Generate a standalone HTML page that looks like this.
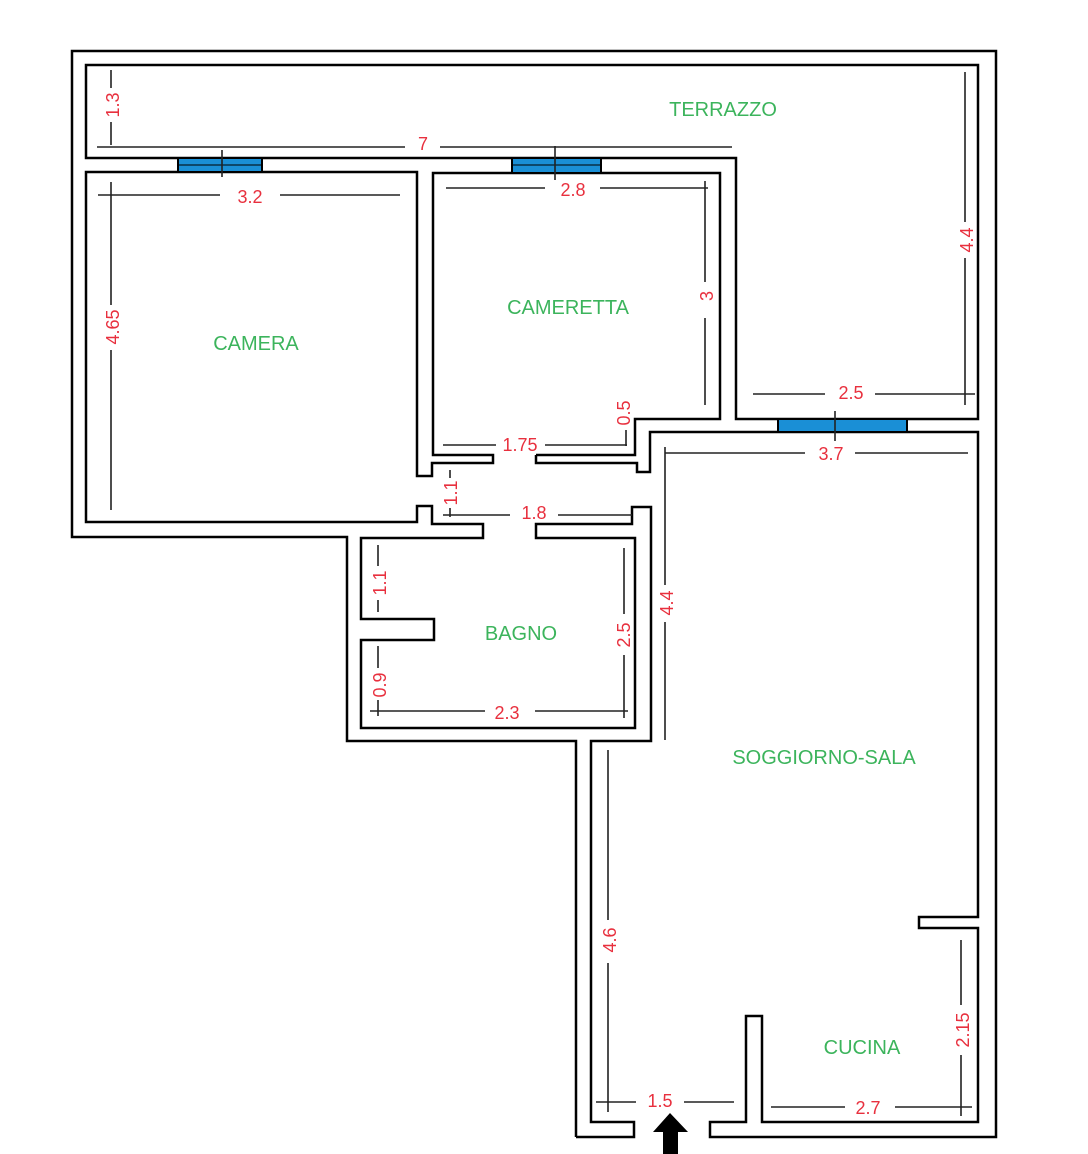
<!DOCTYPE html>
<html><head><meta charset="utf-8"><style>
html,body{margin:0;padding:0;background:#fff;}
svg{display:block;}
.w{fill:none;stroke:#000;stroke-width:2.5;stroke-linejoin:miter;}
.d{stroke:#222;stroke-width:1.6;fill:none;}
.r{fill:#e8303e;font-family:"Liberation Sans",sans-serif;font-size:18px;text-anchor:middle;dominant-baseline:central;}
.g{fill:#3cb45c;font-family:"Liberation Sans",sans-serif;font-size:20px;text-anchor:middle;dominant-baseline:central;}
.win{fill:#1a8fd6;stroke:#000;stroke-width:2;}
</style></head><body>
<svg width="1088" height="1154" viewBox="0 0 1088 1154" xmlns="http://www.w3.org/2000/svg">
<rect width="1088" height="1154" fill="#fff"/>
<!-- outer loop -->
<polyline class="w" stroke-width="3" points="576,1137 576,741 347,741 347,537 72,537 72,51 996,51 996,1137 710,1137 710,1122 746,1122 746,1016 762,1016 762,1122 978,1122 978,928 919,928 919,917 978,917 978,432 650,432 650,472 637,472 637,463 536,463 536,455"/>
<!-- inner loop -->
<polyline class="w" points="576,1137 634,1137 634,1122 591,1122 591,741 651,741 651,507 632,507 632,524 536,524 536,538 635,538 635,728 361,728 361,640 434,640 434,619 361,619 361,538 483,538 483,524 432,524 432,506 417,506 417,522 86,522 86,172 417,172 417,476 432,476 432,463 493,463 493,455 433,455 433,173 720,173 720,419 635,419 635,455 536,455"/>
<!-- terrazzo -->
<polygon class="w" points="86,65 978,65 978,419 736,419 736,158 86,158"/>
<!-- windows -->
<rect class="win" x="178" y="158" width="84" height="14"/><line x1="178" y1="165" x2="262" y2="165" stroke="#000" stroke-width="1"/>
<rect class="win" x="512" y="158" width="89" height="15"/><line x1="512" y1="165" x2="601" y2="165" stroke="#000" stroke-width="1"/>
<rect class="win" x="778" y="419" width="129" height="13"/>
<!-- dimension lines -->
<g class="d">
<line x1="111" y1="70" x2="111" y2="88"/><line x1="111" y1="122" x2="111" y2="145"/>
<line x1="97" y1="147" x2="405" y2="147"/><line x1="440" y1="147" x2="732" y2="147"/>
<line x1="222" y1="150" x2="222" y2="177"/><line x1="555" y1="146" x2="555" y2="180"/>
<line x1="98" y1="195" x2="220" y2="195"/><line x1="280" y1="195" x2="400" y2="195"/>
<line x1="111" y1="182" x2="111" y2="305"/><line x1="111" y1="350" x2="111" y2="510"/>
<line x1="446" y1="188" x2="545" y2="188"/><line x1="600" y1="188" x2="708" y2="188"/>
<line x1="705" y1="181" x2="705" y2="282"/><line x1="705" y1="318" x2="705" y2="405"/>
<line x1="626" y1="430" x2="626" y2="446"/>
<line x1="443" y1="445" x2="496" y2="445"/><line x1="545" y1="445" x2="627" y2="445"/>
<line x1="450" y1="470" x2="450" y2="478"/><line x1="450" y1="508" x2="450" y2="517"/>
<line x1="443" y1="515" x2="510" y2="515"/><line x1="558" y1="515" x2="632" y2="515"/>
<line x1="965" y1="72" x2="965" y2="222"/><line x1="965" y1="258" x2="965" y2="405"/>
<line x1="753" y1="394" x2="825" y2="394"/><line x1="875" y1="394" x2="975" y2="394"/>
<line x1="835" y1="411" x2="835" y2="441"/>
<line x1="665" y1="453" x2="805" y2="453"/><line x1="855" y1="453" x2="968" y2="453"/>
<line x1="665" y1="447" x2="665" y2="585"/><line x1="665" y1="622" x2="665" y2="740"/>
<line x1="378" y1="545" x2="378" y2="566"/><line x1="378" y1="600" x2="378" y2="612"/>
<line x1="378" y1="646" x2="378" y2="668"/><line x1="378" y1="700" x2="378" y2="716"/>
<line x1="370" y1="711" x2="485" y2="711"/><line x1="535" y1="711" x2="628" y2="711"/>
<line x1="624" y1="548" x2="624" y2="614"/><line x1="624" y1="655" x2="624" y2="718"/>
<line x1="608" y1="750" x2="608" y2="920"/><line x1="608" y1="963" x2="608" y2="1112"/>
<line x1="596" y1="1102" x2="636" y2="1102"/><line x1="684" y1="1102" x2="734" y2="1102"/>
<line x1="771" y1="1107" x2="845" y2="1107"/><line x1="895" y1="1107" x2="972" y2="1107"/>
<line x1="961" y1="940" x2="961" y2="1005"/><line x1="961" y1="1055" x2="961" y2="1116"/>
</g>
<!-- red labels -->
<text class="r" transform="translate(113,105) rotate(-90)">1.3</text>
<text class="r" x="423" y="144">7</text>
<text class="r" x="250" y="197">3.2</text>
<text class="r" transform="translate(113,327) rotate(-90)">4.65</text>
<text class="r" x="573" y="190">2.8</text>
<text class="r" transform="translate(707,296) rotate(-90)">3</text>
<text class="r" transform="translate(624,413) rotate(-90)">0.5</text>
<text class="r" x="520" y="445">1.75</text>
<text class="r" transform="translate(451,493) rotate(-90)">1.1</text>
<text class="r" x="534" y="513">1.8</text>
<text class="r" transform="translate(967,240) rotate(-90)">4.4</text>
<text class="r" x="851" y="393">2.5</text>
<text class="r" x="831" y="454">3.7</text>
<text class="r" transform="translate(667,603) rotate(-90)">4.4</text>
<text class="r" transform="translate(380,583) rotate(-90)">1.1</text>
<text class="r" transform="translate(380,685) rotate(-90)">0.9</text>
<text class="r" x="507" y="713">2.3</text>
<text class="r" transform="translate(624,635) rotate(-90)">2.5</text>
<text class="r" transform="translate(610,940) rotate(-90)">4.6</text>
<text class="r" x="660" y="1101">1.5</text>
<text class="r" x="868" y="1108">2.7</text>
<text class="r" transform="translate(963,1030) rotate(-90)">2.15</text>
<!-- green labels -->
<text class="g" x="723" y="110">TERRAZZO</text>
<text class="g" x="256" y="344">CAMERA</text>
<text class="g" x="568" y="308">CAMERETTA</text>
<text class="g" x="521" y="634">BAGNO</text>
<text class="g" x="824" y="758">SOGGIORNO-SALA</text>
<text class="g" x="862" y="1048">CUCINA</text>
<!-- entrance arrow -->
<polygon fill="#000" points="670,1113 688,1132 678,1132 678,1154 663,1154 663,1132 653,1132"/>
</svg>
</body></html>
